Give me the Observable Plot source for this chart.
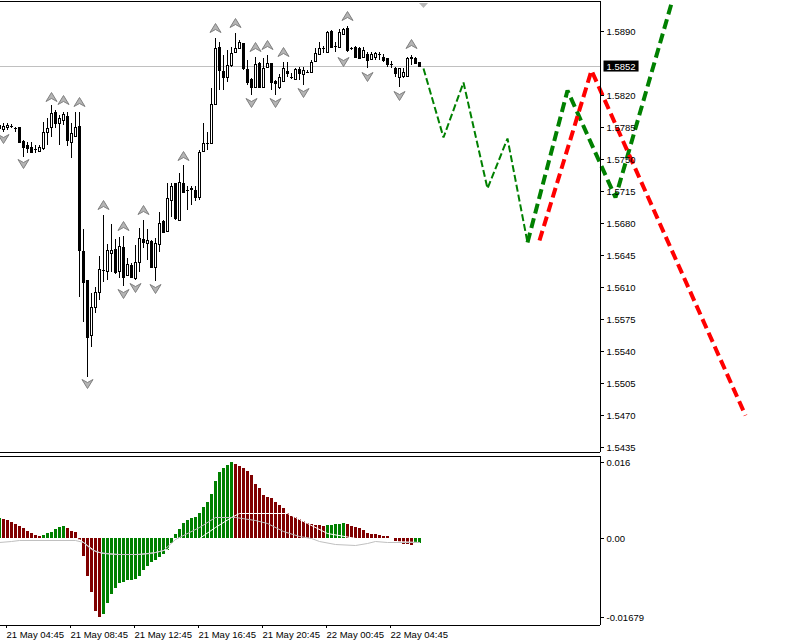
<!DOCTYPE html>
<html><head><meta charset="utf-8">
<script src="https://cdn.jsdelivr.net/npm/d3@7"></script>
<script src="https://cdn.jsdelivr.net/npm/@observablehq/plot@0.6"></script>
<style>
html,body{margin:0;padding:0;background:#fff;overflow:hidden}
#chart{width:802px;height:643px;position:relative;background:#fff}
#chart svg{display:block;max-width:none}
</style></head><body><div id="chart"></div>
<script>
// ================= DATA =================
const firstBar = -2; // bar index of the first candle (bar 0 = 21 May 04:45, M15)
const barOpen = [1.5784,1.5783,1.5785,1.5786,1.5784,1.5785,1.5770,1.5765,1.5763,1.5761,1.5759,1.5762,1.5780,1.5785,1.5801,1.5789,1.5793,1.5797,1.5769,1.5775,
1.5786,1.5649,1.5618,1.5558,1.5588,1.5605,1.5629,1.5628,1.5647,1.5652,1.5628,1.5654,1.5623,1.5634,1.5620,1.5637,1.5662,1.5658,1.5660,1.5632,
1.5657,1.5682,1.5671,1.5705,1.5724,1.5683,1.5724,1.5716,1.5718,1.5716,1.5708,1.5759,1.5768,1.5768,1.5810,1.5873,1.5846,1.5840,1.5853,1.5867,
1.5871,1.5877,1.5848,1.5838,1.5829,1.5855,1.5829,1.5851,1.5855,1.5835,1.5829,1.5835,1.5846,1.5840,1.5838,1.5848,1.5843,1.5845,1.5845,1.5857,
1.5865,1.5871,1.5867,1.5890,1.5874,1.5873,1.5887,1.5893,1.5871,1.5873,1.5871,1.5862,1.5865,1.5859,1.5862,1.5865,1.5862,1.5860,1.5854,1.5850,
1.5840,1.5841,1.5841,1.5862,1.5860,1.5856];
const barHigh = [1.5790,1.5789,1.5789,1.5788,1.5785,1.5785,1.5771,1.5769,1.5769,1.5765,1.5765,1.5790,1.5795,1.5809,1.5804,1.5798,1.5801,1.5801,1.5789,1.5801,
1.5801,1.5673,1.5618,1.5603,1.5610,1.5644,1.5689,1.5657,1.5679,1.5662,1.5665,1.5666,1.5642,1.5636,1.5656,1.5675,1.5683,1.5673,1.5661,1.5664,
1.5692,1.5683,1.5724,1.5724,1.5724,1.5735,1.5743,1.5720,1.5720,1.5720,1.5760,1.5789,1.5780,1.5828,1.5882,1.5878,1.5864,1.5869,1.5873,1.5888,
1.5880,1.5877,1.5858,1.5839,1.5862,1.5856,1.5860,1.5864,1.5855,1.5836,1.5843,1.5856,1.5856,1.5844,1.5850,1.5851,1.5851,1.5847,1.5858,1.5871,
1.5878,1.5874,1.5890,1.5891,1.5878,1.5892,1.5893,1.5895,1.5873,1.5874,1.5873,1.5873,1.5867,1.5867,1.5867,1.5867,1.5865,1.5860,1.5857,1.5851,
1.5850,1.5850,1.5862,1.5864,1.5862,1.5856];
const barLow = [1.5782,1.5780,1.5782,1.5784,1.5780,1.5768,1.5752,1.5757,1.5757,1.5757,1.5758,1.5760,1.5765,1.5774,1.5784,1.5765,1.5787,1.5764,1.5751,1.5774,
1.5599,1.5572,1.5512,1.5544,1.5582,1.5596,1.5615,1.5618,1.5626,1.5624,1.5620,1.5611,1.5622,1.5620,1.5618,1.5626,1.5653,1.5640,1.5631,1.5617,
1.5648,1.5669,1.5670,1.5687,1.5683,1.5682,1.5713,1.5694,1.5700,1.5704,1.5705,1.5758,1.5760,1.5768,1.5809,1.5825,1.5825,1.5834,1.5851,1.5866,
1.5870,1.5847,1.5831,1.5820,1.5828,1.5828,1.5829,1.5850,1.5825,1.5820,1.5827,1.5834,1.5840,1.5838,1.5836,1.5836,1.5831,1.5844,1.5844,1.5856,
1.5864,1.5866,1.5866,1.5871,1.5867,1.5871,1.5886,1.5867,1.5869,1.5860,1.5860,1.5860,1.5850,1.5858,1.5858,1.5858,1.5856,1.5851,1.5850,1.5840,
1.5829,1.5839,1.5840,1.5853,1.5854,1.5851];
const barClose = [1.5787,1.5786,1.5787,1.5786,1.5784,1.5769,1.5763,1.5762,1.5758,1.5761,1.5763,1.5780,1.5784,1.5800,1.5789,1.5795,1.5799,1.5771,1.5778,1.5785,
1.5650,1.5615,1.5555,1.5588,1.5605,1.5630,1.5629,1.5650,1.5650,1.5626,1.5655,1.5621,1.5635,1.5621,1.5637,1.5664,1.5659,1.5661,1.5632,1.5658,
1.5680,1.5670,1.5707,1.5720,1.5685,1.5725,1.5714,1.5716,1.5717,1.5708,1.5758,1.5768,1.5768,1.5810,1.5871,1.5847,1.5840,1.5853,1.5866,1.5871,
1.5878,1.5850,1.5834,1.5829,1.5854,1.5829,1.5850,1.5855,1.5834,1.5833,1.5840,1.5850,1.5844,1.5840,1.5848,1.5844,1.5847,1.5845,1.5856,1.5866,
1.5871,1.5871,1.5889,1.5873,1.5874,1.5889,1.5892,1.5869,1.5871,1.5862,1.5860,1.5869,1.5858,1.5865,1.5866,1.5865,1.5858,1.5854,1.5854,1.5844,
1.5850,1.5845,1.5860,1.5860,1.5855,1.5852];
const bidPrice = 1.5852;
const priceTicks = [1.5890,1.5820,1.5785,1.5750,1.5715,1.5680,1.5645,1.5610,1.5575,1.5540,1.5505,1.5470,1.5435];
const timeTickBars = [0,16,32,48,64,80,96];
const timeTickLabels = ["21 May 04:45","21 May 08:45","21 May 12:45","21 May 16:45","21 May 20:45","22 May 00:45","22 May 04:45"];
// Fractal arrows (bar, price of arrow)
const fractalUpBars = [11,14,18,24,29,34,44,52,57,62,65,69,85,101];
const fractalUpPrices = [1.5818,1.5815,1.5812,1.5700,1.5677,1.5694,1.5753,1.5893,1.5899,1.5873,1.5875,1.5867,1.5906,1.5876];
const fractalDownBars = [-1,4,20,29,32,37,61,67,74,84,90,98];
const fractalDownPrices = [1.5773,1.5746,1.5505,1.5603,1.5610,1.5609,1.5812,1.5812,1.5823,1.5857,1.5841,1.5820];
// projection lines
const zigBars = [104,109,114,120,125,130];
const zigPrices = [1.5850,1.5774,1.5834,1.5718,1.5773,1.5659];
const greenBars = [130,140,152,166];
const greenPrices = [1.5659,1.5825,1.5708,1.5921];
const redBars = [133,146,184.5];
const redPrices = [1.5661,1.5847,1.5470];
const shiftBar = 104;
// MACD sub-window
const macdHist = [0.0042,0.0040,0.0037,0.0034,0.0029,0.0025,0.0020,0.0014,0.0009,0.0006,0.0004,0.0006,0.0009,0.0013,0.0018,0.0022,0.0024,0.0020,0.0015,0.0012,
-0.0005,-0.0038,-0.0080,-0.0115,-0.0154,-0.01679,-0.0160,-0.0138,-0.0119,-0.0105,-0.0095,-0.0093,-0.0090,-0.0088,-0.0087,-0.0081,-0.0069,-0.0059,-0.0051,-0.0046,
-0.0040,-0.0035,-0.0026,-0.0011,0.0007,0.0018,0.0030,0.0037,0.0041,0.0044,0.0053,0.0064,0.0076,0.0093,0.0120,0.0139,0.0146,0.0153,0.0160,0.0155,
0.0152,0.0147,0.0141,0.0131,0.0114,0.0104,0.0090,0.0086,0.0083,0.0076,0.0069,0.0063,0.0053,0.0046,0.0044,0.0039,0.0035,0.0030,0.0028,0.0027,
0.0026,0.0025,0.0026,0.0027,0.0028,0.0029,0.0030,0.0028,0.0025,0.0022,0.0020,0.0016,0.0009,0.0008,0.0007,0.0006,0.0004,0.0003,-0.0001,-0.0007,
-0.0010,-0.0013,-0.0014,-0.0015,-0.0012,-0.0011];
const signalBars = [-2,1,3,17,19,21,23,27,32,36,39,42,48,52,57,62,65,69,73,76,78,82,87,90,92,95,103];
const signalVals = [-0.0010,-0.0006,-0.0005,-0.0004,-0.0010,-0.0024,-0.0030,-0.0034,-0.0035,-0.0032,-0.0026,-0.0002,0.0023,0.0044,0.0044,0.0037,0.0030,0.0014,0.0004,-0.0001,-0.0007,-0.0014,-0.0015,-0.0012,-0.0007,-0.0008,-0.0010];
const whiteBars = [17,18,20,22,24,28,33,37,40,42,48,52,56,58,70,75,80,90,103];
const whiteVals = [0.0000,-0.0002,-0.0015,-0.0028,-0.0032,-0.0034,-0.0035,-0.0031,-0.0024,-0.0005,0.0000,0.0022,0.0044,0.0053,0.0053,0.0030,0.0010,-0.0005,-0.0008];
const macdTicks = [0.016, 0, -0.01679];
const macdTickLabels = ["0.016","0.00","-0.01679"];

// ================= LAYOUT =================
const W = 802, MAIN_H = 455, SUB_H = 188, AXIS_PX = 600;
const BAR0_PX = 7, BAR_PX = 4;
const P_REF = 1.5890, P_REF_PX = 31, PX_PER_PRICE = 32 / 0.0035;
const MAIN_TOP = 1, MAIN_BOT = 452;
const SUB_TOP = 1, SUB_AXIS = 170, V_ZERO_PX = 82.7, PX_PER_V = 76 / 0.016;
const priceAt = px => P_REF - (px - P_REF_PX) / PX_PER_PRICE;
const valAt = px => (V_ZERO_PX - px) / PX_PER_V;
const barAt = px => (px - BAR0_PX) / BAR_PX;
const FONT = "'Liberation Sans', Arial, sans-serif";
const GREEN = "#008000", MAROON = "#800000", RED = "#ff0000";

const candles = barOpen.map((o, k) => ({i: firstBar + k, open: o, high: barHigh[k], low: barLow[k], close: barClose[k]}));
const hist = macdHist.map((v, k) => ({i: firstBar + k, v, up: k === 0 || v > macdHist[k - 1]}));
const pts = (bars, vals) => bars.map((b, k) => ({i: b, v: vals[k]}));

const arrowUp = {draw(c) { c.moveTo(0, -5); c.lineTo(5.5, 4); c.lineTo(0, 1); c.lineTo(-5.5, 4); c.closePath(); }};
const arrowDown = {draw(c) { c.moveTo(0, 5); c.lineTo(5.5, -4); c.lineTo(0, -1); c.lineTo(-5.5, -4); c.closePath(); }};
const triDown = {draw(c) { c.moveTo(-4.5, -2.5); c.lineTo(4.5, -2.5); c.lineTo(0, 2.5); c.closePath(); }};

const xScale = {type: "linear", domain: [0, 1], range: [BAR0_PX, BAR0_PX + BAR_PX], round: true, label: null};

const main = Plot.plot({
  width: W, height: MAIN_H,
  marginLeft: 0, marginRight: W - AXIS_PX, marginTop: MAIN_TOP, marginBottom: MAIN_H - MAIN_BOT,
  style: {fontFamily: FONT, fontSize: "9.5px", color: "black", background: "white", overflow: "visible"},
  x: {...xScale, axis: null},
  y: {domain: [priceAt(MAIN_BOT), priceAt(MAIN_TOP)], range: [MAIN_BOT, MAIN_TOP], round: true, label: null},
  marks: [
    Plot.ruleY([bidPrice], {stroke: "#c0c0c0"}),
    Plot.ruleX(candles, {x: "i", y1: "low", y2: "high", stroke: "black"}),
    Plot.rect(candles, {x1: d => d.i - 0.25, x2: d => d.i + 0.25, y1: "open", y2: "close",
      fill: d => d.close > d.open ? "white" : "black", stroke: "black", dx: 0.5, dy: 0.5}),
    Plot.ruleY(candles, {y: "open", x1: d => d.i - 0.25, x2: d => d.i + 0.25, stroke: "black", strokeLinecap: "square", dx: 0.5}),
    Plot.ruleY(candles, {y: "close", x1: d => d.i - 0.25, x2: d => d.i + 0.25, stroke: "black", strokeLinecap: "square", dx: 0.5}),
    Plot.dot(pts(fractalUpBars, fractalUpPrices), {x: "i", y: "v", symbol: arrowUp, fill: "#b4b4b4", stroke: "#808080", strokeWidth: 1}),
    Plot.dot(pts(fractalDownBars, fractalDownPrices), {x: "i", y: "v", symbol: arrowDown, fill: "#b4b4b4", stroke: "#808080", strokeWidth: 1}),
    Plot.line(pts(zigBars, zigPrices), {x: "i", y: "v", stroke: GREEN, strokeWidth: 2, strokeDasharray: "7,3", strokeLinecap: "butt", strokeLinejoin: "miter"}),
    Plot.line(pts(greenBars, greenPrices), {x: "i", y: "v", stroke: GREEN, strokeWidth: 4, strokeDasharray: "10,5", strokeLinecap: "butt", strokeLinejoin: "miter"}),
    Plot.line(pts(redBars, redPrices), {x: "i", y: "v", stroke: RED, strokeWidth: 4, strokeDasharray: "10,5", strokeLinecap: "butt", strokeLinejoin: "miter"}),
    Plot.dot([shiftBar], {x: d => d, frameAnchor: "top", dy: 4, symbol: triDown, fill: "#b8b8b8", stroke: "none"}),
    Plot.ruleY([priceAt(MAIN_TOP)], {stroke: "black"}),
    Plot.ruleY([priceAt(MAIN_BOT)], {stroke: "black"}),
    Plot.ruleX([barAt(AXIS_PX)], {stroke: "black"}),
    Plot.axisY(priceTicks, {anchor: "right", label: null, tickSize: 3, tickPadding: 3, tickFormat: d => d.toFixed(4), stroke: "black", fill: "black"}),
    Plot.text([bidPrice], {y: d => d, frameAnchor: "right", dx: 6, textAnchor: "start", text: d => d.toFixed(4), fill: "white"})
  ]
});

const sub = Plot.plot({
  width: W, height: SUB_H,
  marginLeft: 0, marginRight: W - AXIS_PX, marginTop: SUB_TOP, marginBottom: SUB_H - SUB_AXIS,
  style: {fontFamily: FONT, fontSize: "9.5px", color: "black", background: "white", overflow: "visible"},
  x: xScale,
  y: {domain: [valAt(SUB_AXIS), valAt(SUB_TOP)], range: [SUB_AXIS, SUB_TOP], round: true, label: null},
  marks: [
    Plot.rect(hist, {x1: d => d.i - 0.25, x2: d => d.i + 0.5, y1: d => 0, y2: "v", fill: d => d.up ? GREEN : MAROON}),
    Plot.line(pts(whiteBars, whiteVals), {x: "i", y: "v", stroke: "white", strokeWidth: 1}),
    Plot.line(pts(signalBars, signalVals), {x: "i", y: "v", stroke: "#c0c0c0", strokeWidth: 1}),
    Plot.ruleY([valAt(SUB_TOP)], {stroke: "black"}),
    Plot.ruleY([valAt(SUB_AXIS)], {stroke: "black"}),
    Plot.ruleX([barAt(AXIS_PX)], {stroke: "black"}),
    Plot.axisY(macdTicks, {anchor: "right", label: null, tickSize: 3, tickPadding: 3, tickFormat: d => macdTickLabels[macdTicks.indexOf(d)], stroke: "black", fill: "black"}),
    Plot.axisX(timeTickBars, {anchor: "bottom", label: null, tickSize: 3, tickPadding: 3, tickFormat: d => timeTickLabels[timeTickBars.indexOf(d)], textAnchor: "start", dx: -1, stroke: "black", fill: "black"})
  ]
});

const root = document.getElementById("chart");
root.append(main);
root.append(sub);

// black box behind the bid price label (same transform as the text)
const bidStr = bidPrice.toFixed(4);
d3.select(main).selectAll("text").filter(function () { return this.textContent === bidStr; }).each(function () {
  const bb = this.getBBox();
  d3.select(this.parentNode).insert("rect", () => this)
    .attr("transform", this.getAttribute("transform"))
    .attr("x", bb.x - 3).attr("y", bb.y).attr("width", bb.width + 6).attr("height", bb.height)
    .attr("fill", "black").attr("stroke", "none");
  d3.select(this).attr("fill", "white");
});
</script></body></html>
